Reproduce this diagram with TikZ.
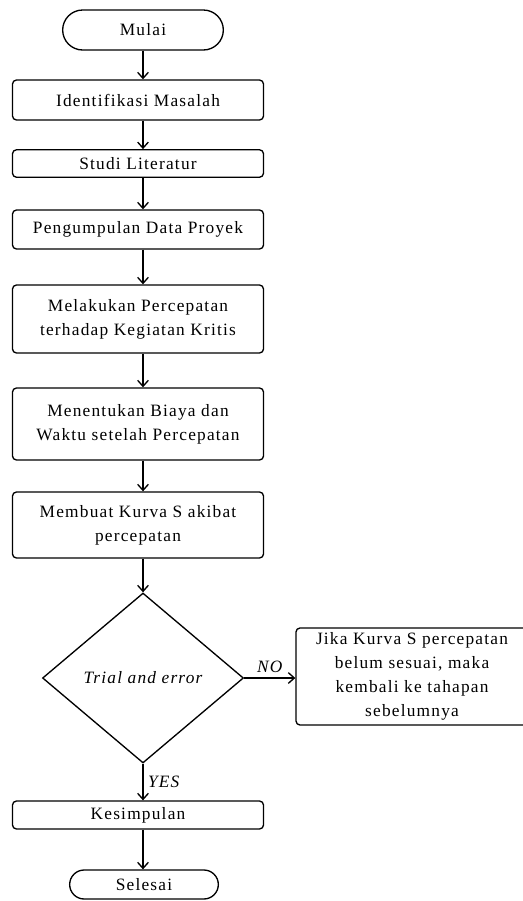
\documentclass[tikz,border=0pt]{standalone}
\usepackage{fontspec}
\setmainfont[LetterSpace=7]{Liberation Serif}
\usetikzlibrary{shapes.geometric,shapes.misc,arrows.meta}

\begin{document}
\begin{tikzpicture}[x=0.75pt,y=-0.75pt]
  \tikzset{
    proses/.style={draw=black, line width=1pt, rounded corners=3pt, align=center,
      minimum width=188.25pt, inner sep=2pt, font=\fontsize{13}{18}\selectfont},
    terminal/.style={rounded rectangle, draw=black, line width=1pt, inner sep=2pt,
      font=\fontsize{13}{18}\selectfont},
    keputusan/.style={diamond, draw=black, line width=1pt, inner sep=0pt,
      minimum width=150.75pt, minimum height=127.5pt, font=\fontsize{13}{18}\itshape},
    panah/.style={draw=black, line width=1pt, -{Straight Barb[length=4.5pt,width=8pt]}},
    ket/.style={font=\fontsize{13}{18}\itshape}
  }
  \useasboundingbox (0,0) rectangle (523,901);

  % alur utama (satu kolom)
  \node[terminal, minimum width=124.5pt, minimum height=30pt] (mulai) at (143,30) {Mulai};
  \node[proses, minimum height=30pt] (identifikasi) at (138,100) {Identifikasi Masalah};
  \node[proses, minimum height=20.6pt] (studi) at (138,163.5) {Studi Literatur};
  \node[proses, minimum height=29.25pt] (data) at (138,229.5) {Pengumpulan Data Proyek};
  \node[proses, minimum height=51pt] (crash) at (138,319) {Melakukan Percepatan\\terhadap Kegiatan Kritis};
  \node[proses, minimum height=54pt] (biaya) at (138,424) {Menentukan Biaya dan\\Waktu setelah Percepatan};
  \node[proses, minimum height=49.5pt] (kurva) at (138,525) {Membuat Kurva S akibat\\percepatan};
  \node[keputusan] (trial) at (143,678) {Trial and error};
  \node[proses, minimum height=21pt] (simpul) at (138,815) {Kesimpulan};
  \node[terminal, minimum width=115.5pt, minimum height=21.75pt] (selesai) at (144,884.5) {Selesai};

  % cabang NO
  \node[proses, minimum width=174pt, minimum height=72.75pt] (balik) at (412,676.5)
    {Jika Kurva S percepatan\\belum sesuai, maka\\kembali ke tahapan\\sebelumnya};

  % panah
  \draw[panah] (mulai.south) -- (mulai.south |- identifikasi.north);
  \draw[panah] (identifikasi.south -| mulai) -- (studi.north -| mulai);
  \draw[panah] (studi.south -| mulai) -- (data.north -| mulai);
  \draw[panah] (data.south -| mulai) -- (crash.north -| mulai);
  \draw[panah] (crash.south -| mulai) -- (biaya.north -| mulai);
  \draw[panah] (biaya.south -| mulai) -- (kurva.north -| mulai);
  \draw[panah] (kurva.south -| mulai) -- (trial.north);
  \draw[panah] (trial.east) -- (trial.east -| balik.west) node[ket, midway, above] {NO};
  \draw[panah] (trial.south) -- (trial.south |- simpul.north) node[ket, midway, right] {YES};
  \draw[panah] (simpul.south -| mulai) -- (selesai.north -| mulai);
\end{tikzpicture}
\end{document}
